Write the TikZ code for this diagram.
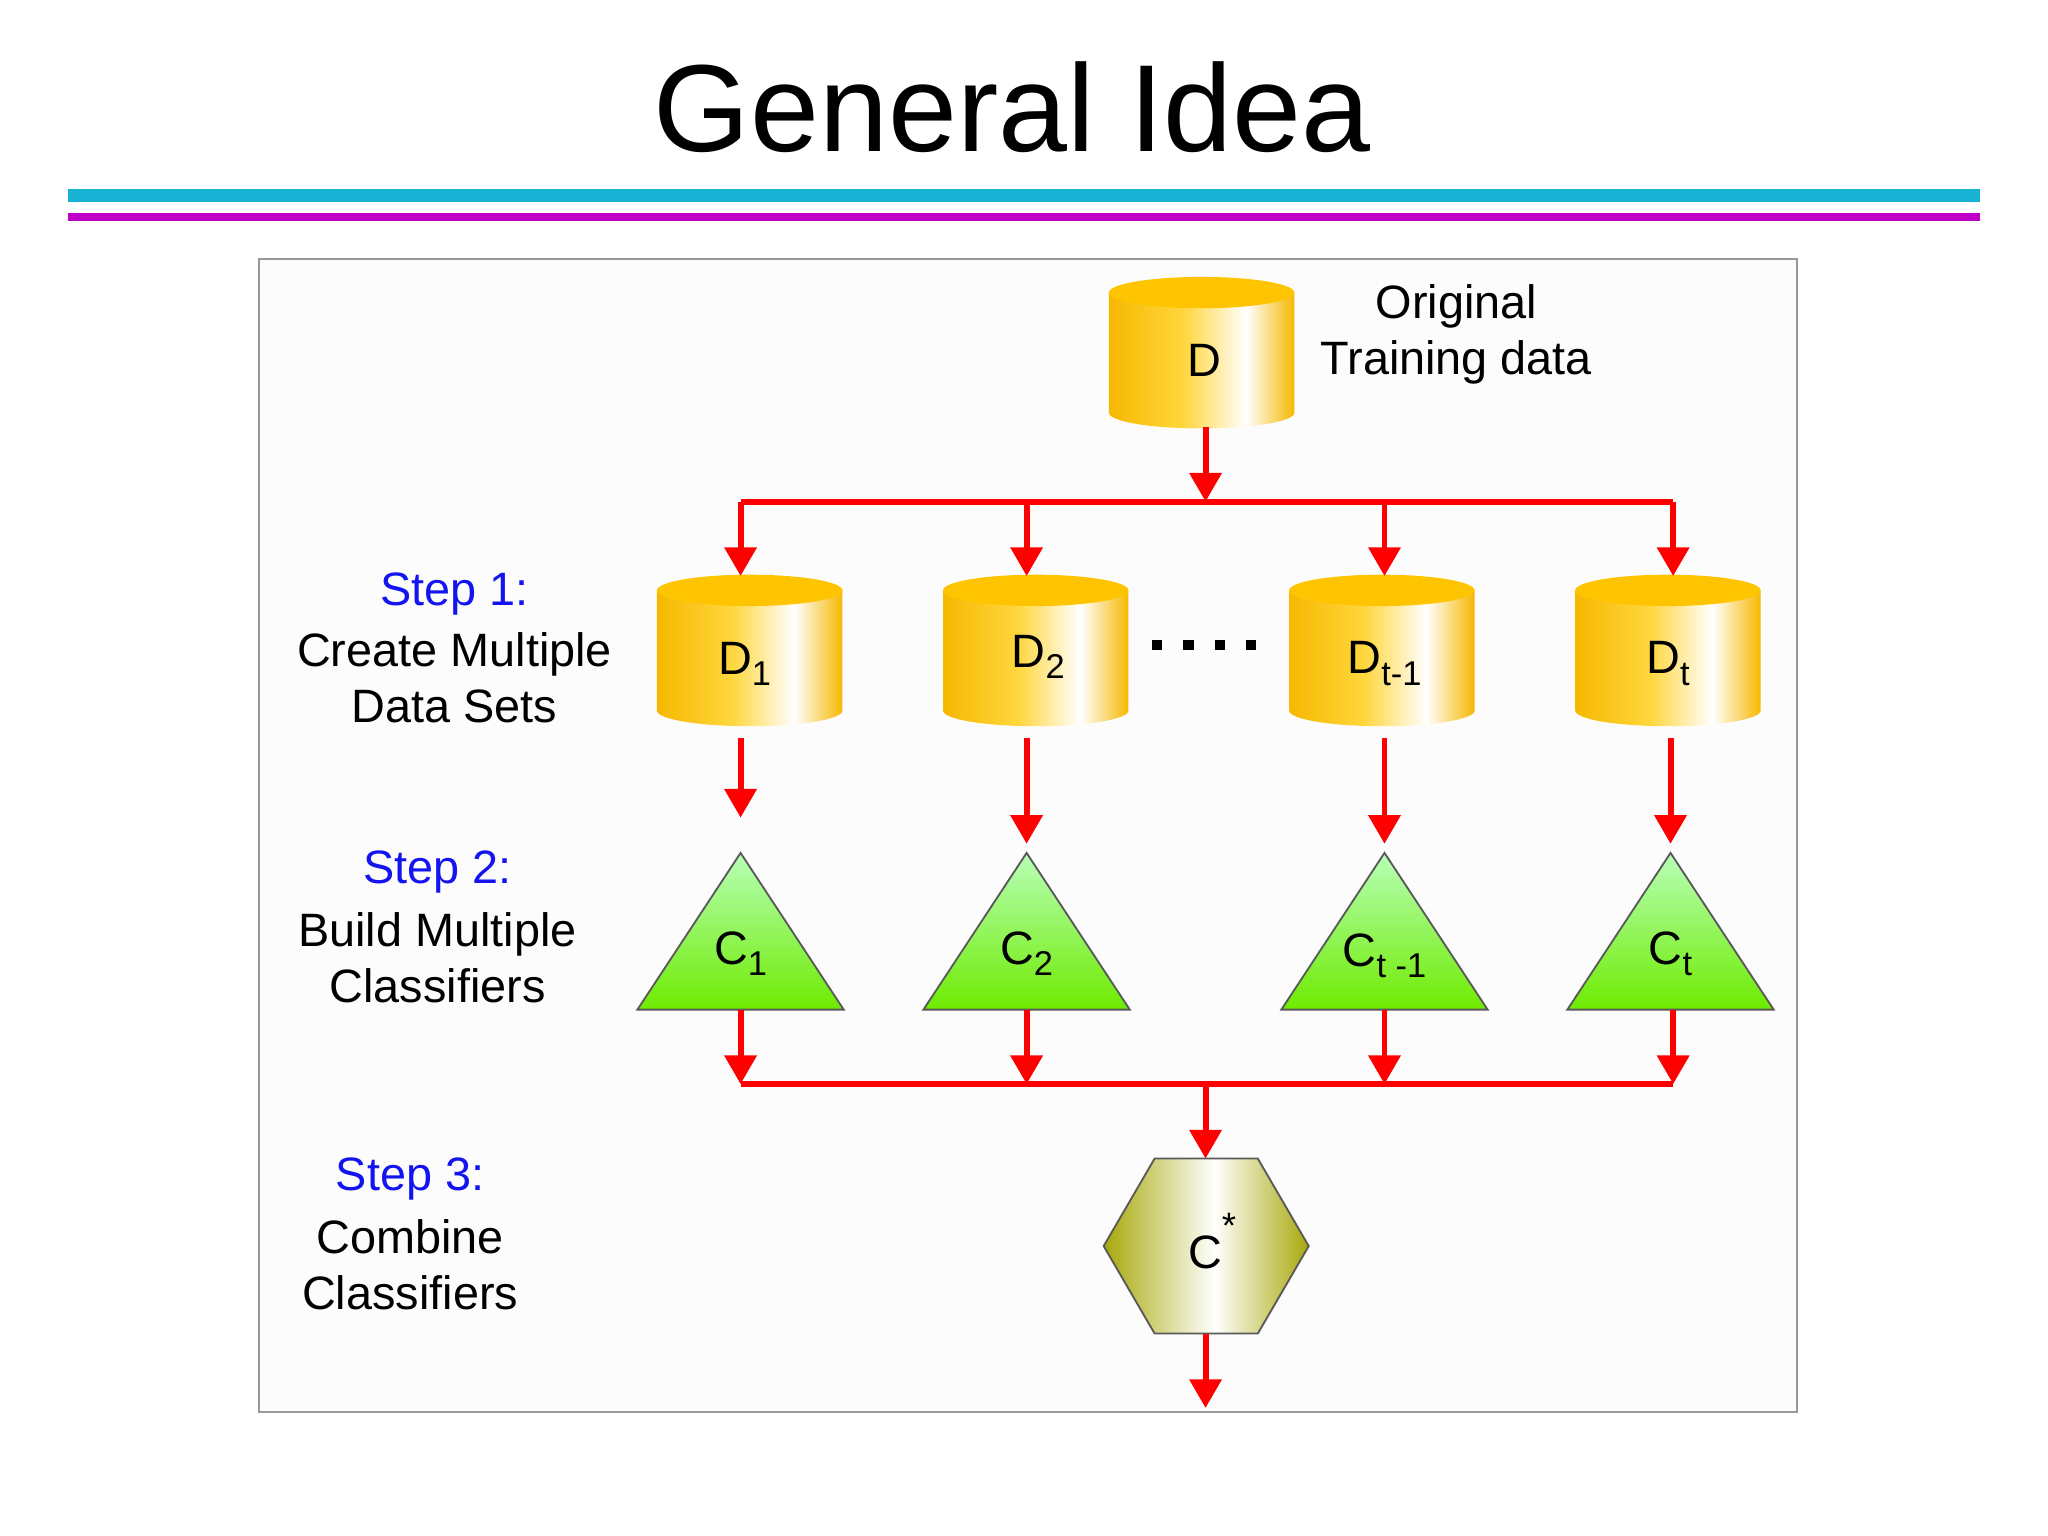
\documentclass[tikz,border=0pt]{standalone}
\usepackage{fontspec}
\setmainfont{Liberation Sans}
\usetikzlibrary{arrows.meta}
\definecolor{goldA}{RGB}{246,184,0}
\definecolor{goldB}{RGB}{255,214,60}
\definecolor{goldT}{RGB}{255,196,0}
\definecolor{cyanL}{RGB}{24,178,212}
\definecolor{magL}{RGB}{190,0,200}
\definecolor{olive}{RGB}{168,168,10}
\definecolor{stepblue}{RGB}{20,20,240}
\pgfdeclarehorizontalshading{cylsh}{100bp}{color(0bp)=(goldA); color(25bp)=(goldA); color(45bp)=(goldB); color(62bp)=(white); color(75bp)=(goldA); color(100bp)=(goldA)}
\pgfdeclarehorizontalshading{hexsh}{100bp}{color(0bp)=(olive); color(25bp)=(olive); color(52bp)=(white); color(75bp)=(olive); color(100bp)=(olive)}
\newcommand{\lowsub}[1]{\raisebox{-0.45ex}{\fontsize{7.5}{8}\selectfont #1}}
\tikzset{
  arr/.style={red, line width=1.3pt, -{Triangle[width=2.4mm,length=2.2mm]}},
  bus/.style={red, line width=1.3pt},
  lbl/.style={font=\fontsize{10.2}{12.2}\selectfont, align=center},
  steplbl/.style={lbl, text=stepblue},
  cyl/.pic={
    \shade[shading=cylsh] (-71,46) -- (-71,-46) arc (180:360:71 and 12) -- (71,46) -- cycle;
    \fill[goldT] (0,46) ellipse (71 and 12);
  },
  tri/.pic={
    \shade[top color=green!15!white!85!green, bottom color={rgb,255:red,110;green,235;blue,0}, draw=gray!70!black, line width=0.4pt] (0,60) -- (-79,-60) -- (79,-60) -- cycle;
  },
}
\begin{document}
\begin{tikzpicture}[x=0.1mm,y=0.1mm]
\useasboundingbox (0,0) rectangle (1568,-1176);
\fill[white] (0,0) rectangle (1568,-1176);
\node (title) at (775,-82) {\fontsize{27}{32}\selectfont General Idea};
\fill[cyanL] (52,-145) rectangle (1516,-155);
\fill[magL] (52,-163) rectangle (1516,-169);
\draw[gray!80, fill=gray!2] (198,-198) rectangle (1376,-1081);
% cylinders
\pic at (920,-270) {cyl}; \node[lbl] (D) at (922,-276) {D};
\pic at (574,-498) {cyl}; \node[lbl] (D1) at (570,-508) {D\lowsub{1}};
\pic at (793,-498) {cyl}; \node[lbl] (D2) at (795,-503) {D\lowsub{2}};
\pic at (1058,-498) {cyl}; \node[lbl] (Dt1) at (1060,-508) {D\lowsub{t-1}};
\pic at (1277,-498) {cyl}; \node[lbl] (Dt) at (1277,-508) {D\lowsub{t}};
\node[lbl] (orig) at (1115,-256) {Original\\Training data};
\foreach \x in {886,910,934,958} \fill (\x-4,-490) rectangle (\x+4,-498);
% bus 1
\coordinate (a0) at (923,-327); \coordinate (a1) at (923,-384);
\coordinate (b1) at (567,-384); \coordinate (b4) at (1281,-384);
\draw[arr] (a0) -- (a1);
\draw[bus] (b1) -- (b4);
\foreach \x in {567,786,1060,1281} \draw[arr] (\x,-384) -- (\x,-441);
% arrows to triangles
\draw[arr] (567,-565) -- (567,-626);
\foreach \x in {786,1060,1279} \draw[arr] (\x,-565) -- (\x,-646);
% triangles
\pic at (567,-713) {tri}; \node[lbl] (C1) at (567,-730) {C\lowsub{1}};
\pic at (786,-713) {tri}; \node[lbl] (C2) at (786,-730) {C\lowsub{2}};
\pic at (1060,-713) {tri}; \node[lbl] (Ct1) at (1060,-732) {C\lowsub{t -1}};
\pic at (1279,-713) {tri}; \node[lbl] (Ct) at (1279,-730) {C\lowsub{t}};
% bus 2
\foreach \x in {567,786,1060,1281} \draw[arr] (\x,-773) -- (\x,-830);
\coordinate (c1) at (567,-830); \coordinate (c4) at (1281,-830);
\draw[bus] (c1) -- (c4);
\coordinate (h0) at (923,-830); \coordinate (h1) at (923,-887);
\draw[arr] (h0) -- (h1);
% hexagon
\shade[shading=hexsh, draw=gray!70!black, line width=0.4pt] (884,-887) -- (963,-887) -- (1002,-954) -- (963,-1021) -- (884,-1021) -- (845,-954) -- cycle;
\node[lbl] (Cs) at (928,-950) {C\raisebox{1.2ex}{\fontsize{8}{8}\selectfont *}};
\coordinate (o0) at (923,-1021); \coordinate (o1) at (923,-1078);
\draw[arr] (o0) -- (o1);
% steps
\node[steplbl] (s1) at (348,-455) {Step 1:};
\node[lbl] (s1t) at (348,-519) {Create Multiple\\Data Sets};
\node[steplbl] (s2) at (335,-668) {Step 2:};
\node[lbl] (s2t) at (335,-733) {Build Multiple\\Classifiers};
\node[steplbl] (s3) at (314,-903) {Step 3:};
\node[lbl] (s3t) at (314,-968) {Combine\\Classifiers};
\end{tikzpicture}
\end{document}
